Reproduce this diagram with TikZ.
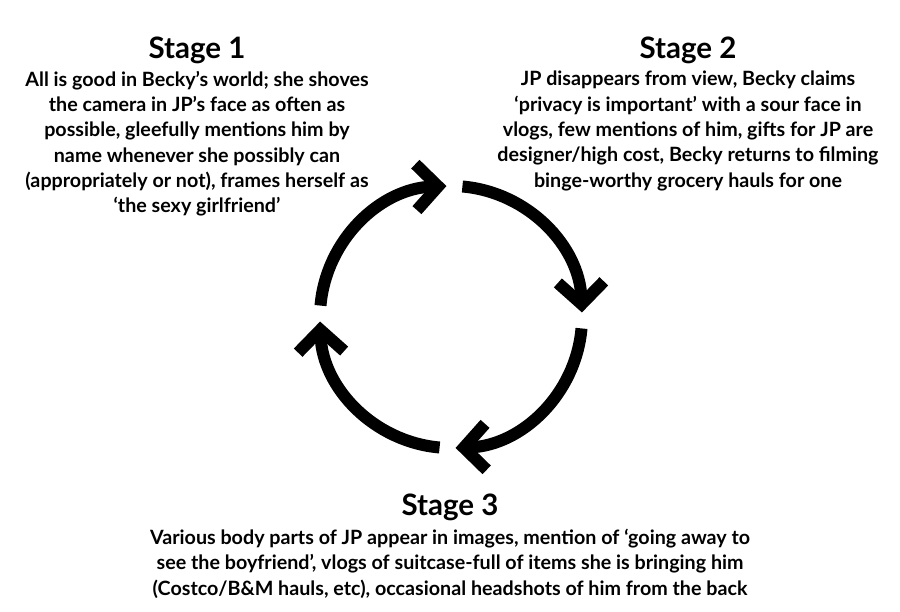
\documentclass[tikz,border=0pt]{standalone}
\usepackage{fontspec}
\setmainfont{Lato}
\usetikzlibrary{arrows.meta, positioning}

\tikzset{
  stagetitle/.style={font=\fontsize{29.5}{32}\selectfont\bfseries, inner sep=0pt},
  stagetext/.style={align=center, font=\fontsize{19.7}{25.3}\selectfont\bfseries, inner sep=0pt},
  cyclearrow/.style={line width=12pt, -{Straight Barb[length=22pt, width=46pt]}}
}

\begin{document}
\begin{tikzpicture}[x=1pt, y=1pt]
        % Lienzo con el tamaño de la imagen (900 x 611)
        \useasboundingbox (0,0) rectangle (900,611);

        % Centro del ciclo
        \coordinate (centre) at (451,294);

        % Stage 1 (arriba a la izquierda)
        \node[stagetitle] (title1) at (197,561) {Stage 1};
        \node[stagetext, anchor=north] (text1) at (197,540) {All is good in Becky’s world; she shoves\\the camera in JP’s face as often as\\possible, gleefully mentions him by\\name whenever she possibly can\\(appropriately or not), frames herself as\\‘the sexy girlfriend’};

        % Stage 2 (arriba a la derecha)
        \node[stagetitle] (title2) at (688,561) {Stage 2};
        \node[stagetext, anchor=north] (text2) at (688,540) {JP disappears from view, Becky claims\\‘privacy is important’ with a sour face in\\vlogs, few mentions of him, gifts for JP are\\designer/high cost, Becky returns to filming\\binge-worthy grocery hauls for one};

        % Stage 3 (abajo)
        \node[stagetitle] (title3) at (450,104) {Stage 3};
        \node[stagetext, anchor=north] (text3) at (450,82) {Various body parts of JP appear in images, mention of ‘going away to\\see the boyfriend’, vlogs of suitcase-full of items she is bringing him\\(Costco/B\&M hauls, etc), occasional headshots of him from the back};

        % Flechas del ciclo (sentido horario)
        \foreach \a in {0,90,180,270}
            \draw[cyclearrow] (centre) ++(175-\a:131) arc[start angle=175-\a, end angle=92-\a, radius=131pt];
\end{tikzpicture}
\end{document}
